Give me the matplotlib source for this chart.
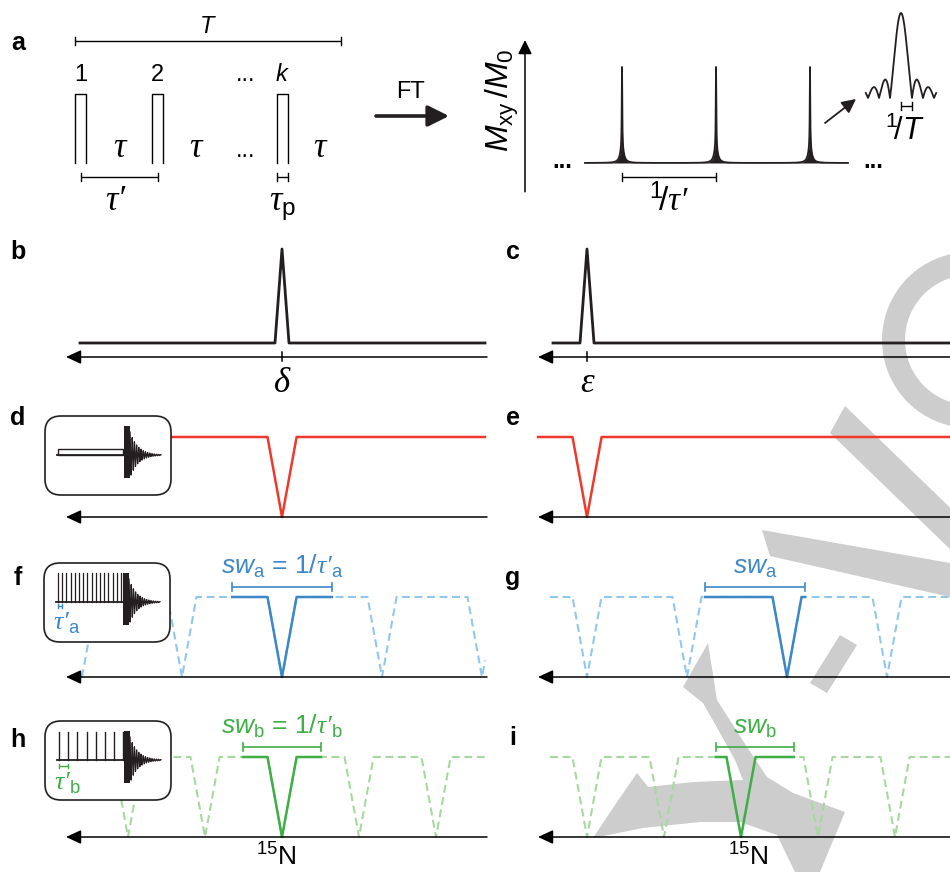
import numpy as np
import matplotlib
matplotlib.use("Agg")
import matplotlib.pyplot as plt
from matplotlib.patches import FancyBboxPatch, Polygon, Wedge, Rectangle

plt.rcParams['font.family'] = ['Liberation Sans', 'DejaVu Sans']
plt.rcParams['mathtext.fontset'] = 'custom'
plt.rcParams['mathtext.rm'] = 'Liberation Sans'
plt.rcParams['mathtext.it'] = 'Liberation Sans:italic'
plt.rcParams['mathtext.bf'] = 'Liberation Sans:bold'
plt.rcParams['mathtext.sf'] = 'Liberation Sans'
plt.rcParams['mathtext.cal'] = 'Liberation Serif:italic'

W, H = 950, 872
INK = '#231f20'
RED = '#ee3a2c'
BLUE, BLUE_LT = '#3d87c7', '#92c7ec'
GREEN, GREEN_LT = '#3fae46', '#a6d89f'
GREY = '#cdcdcd'
SERIF_IT = dict(family='Liberation Serif', style='italic')
TAU_P = r"$\mathcal{τ′}$"   # tau prime, serif italic

# ---------------- data ----------------
# a: pulse train, time in units of tau'
pulse_t = [0.0, 1.0, 2.62]
pulse_lbl = ['1', '2', '$k$']
tau_p = 0.143
tau_lbl_t = [0.5, 1.49, 3.11]
dots_t = 2.14
T_span = (-0.07, 3.38)
# a: FT of the train, frequency in units of 1/tau'
comb_f = [0.0, 1.0, 2.0]
comb_range = (-0.394, 2.404)
line_g1, line_g2, line_w2 = 0.003, 0.022, 0.16
# a: single line shape, frequency in units of 1/T
sinc_range = (-3.2, 3.2)

# b-i: frequency axis in units of sw_a, peak at 0 in each column
delta, eps = 0.0, 0.0
peak_hw, peak_base, peak_top = 0.07, 0.175, 1.35
dip_hw = 0.145
sw_a, sw_b = 1.0, 0.77
left_span = (-2.02, 2.03)      # spectrum extent, left column
right_span = (-0.37, 3.63)     # spectrum extent, right column
red_right_start = -0.49
win_f = (-0.5, 0.5)
win_g = (1.18, 2.18)
win_h = (-0.39, 0.39)
win_i = (1.29, 2.07)
fold_g = eps + 2 * sw_a
fold_i = eps + 2 * sw_b

# insets: acquisition schemes (local pixel units)
n_pulse_a, step_a = 16, 4.2
n_pulse_b, step_b = 8, 9.2
pulse0 = 15

fig = plt.figure(figsize=(W / 100, H / 100), dpi=100)


def fig_axes(x0, x1, y0, y1, xlim, ylim, z=1):
    ax = fig.add_axes([x0 / W, 1 - y1 / H, (x1 - x0) / W, (y1 - y0) / H], zorder=z)
    ax.set_xlim(xlim)
    ax.set_ylim(ylim)
    ax.axis('off')
    return ax


# watermark (background)
wm = fig_axes(0, W, 0, H, (0, W), (H, 0), z=0)
wm.add_patch(Wedge((970, 340), 88, 0, 360, width=23, color=GREY, lw=0))
wm_shapes = [
    [(830, 433), (845, 406), (1000, 556), (985, 583)],
    [(762, 530), (950, 563), (950, 597), (770, 556)],
    [(810, 683), (827, 693), (857, 645), (840, 635)],
    [(708, 643), (717, 700), (747, 747), (767, 777), (793, 793), (845, 812),
     (820, 872), (795, 872), (777, 835), (740, 822), (700, 822), (643, 828),
     (593, 838), (615, 805), (637, 773), (648, 787), (693, 782), (743, 780),
     (735, 760), (720, 733), (703, 703), (683, 687)],
]
for pts in wm_shapes:
    wm.add_patch(Polygon(pts, closed=True, color=GREY, lw=0))

# overlay for labels / arrows
ov = fig_axes(0, W, 0, H, (0, W), (H, 0), z=20)
for lbl, x, y in [('a', 18, 43), ('b', 18, 252), ('c', 513, 252), ('d', 18, 418),
                  ('e', 513, 418), ('f', 18, 578), ('g', 513, 578), ('h', 18, 740),
                  ('i', 513, 738)]:
    ov.text(x, y, lbl, ha='center', va='center', fontsize=18, fontweight='bold')
ov.text(411, 92, 'FT', ha='center', va='center', fontsize=17)
ov.annotate('', xy=(449, 116), xytext=(376, 116),
            arrowprops=dict(arrowstyle='-|>,head_length=0.8,head_width=0.4', lw=2.6,
                            color=INK, shrinkA=0, shrinkB=0, mutation_scale=16))
ov.annotate('', xy=(856, 99), xytext=(825, 123),
            arrowprops=dict(arrowstyle='-|>,head_length=0.6,head_width=0.3', lw=1.3,
                            color=INK, shrinkA=0, shrinkB=0, mutation_scale=14))

# ---------------- panel a: pulse train ----------------
PX_T = 77.0
pa = fig_axes(60, 360, 0, 230, ((60 - 80.5) / PX_T, (360 - 80.5) / PX_T), (230, 0))
hw = tau_p / 2
for t, lbl in zip(pulse_t, pulse_lbl):
    pa.plot([t - hw, t - hw, t + hw, t + hw], [163, 94, 94, 163], color='k', lw=1.0)
    pa.text(t, 81, lbl, ha='center', va='baseline', fontsize=17)
for t in tau_lbl_t:
    pa.text(t, 157, 'τ', ha='center', va='baseline', fontsize=25, **SERIF_IT)
pa.text(dots_t, 81, '...', ha='center', va='baseline', fontsize=17)
pa.text(dots_t, 157, '...', ha='center', va='baseline', fontsize=17)


def bracket(ax, x0, x1, y, h, color='k', lw=1.0):
    ax.plot([x0, x1], [y, y], color=color, lw=lw, solid_capstyle='butt')
    for x in (x0, x1):
        ax.plot([x, x], [y - h, y + h], color=color, lw=lw)


bracket(pa, T_span[0], T_span[1], 41, 4)
pa.text(np.mean(T_span), 33, '$T$', ha='center', va='baseline', fontsize=17)
bracket(pa, pulse_t[0], pulse_t[1], 177, 4)
pa.text(0.45, 210, 'τ\u2032', ha='center', va='baseline', fontsize=25, **SERIF_IT)
bracket(pa, pulse_t[2] - hw, pulse_t[2] + hw, 177, 4)
pa.text(pulse_t[2], 210, r"$\mathcal{\tau}_{\mathrm{p}}$", ha='center', va='baseline', fontsize=25)

# ---------------- panel a: spectrum ----------------
PX_F, PX_I = 94.0, 96.0
sa = fig_axes(480, 895, 25, 215, ((480 - 622) / PX_F, (895 - 622) / PX_F),
              ((163 - 215) / PX_I, (163 - 25) / PX_I))
fx = np.linspace(comb_range[0], comb_range[1], 30000)
fy = np.zeros_like(fx)
for f0 in comb_f:
    d2 = (fx - f0) ** 2
    fy += (1 - line_w2) * line_g1 ** 2 / (d2 + line_g1 ** 2) + line_w2 * line_g2 ** 2 / (d2 + line_g2 ** 2)
sa.fill_between(fx, 0, fy, color=INK, lw=0)
sa.plot(fx, fy, color=INK, lw=1.3)
sa.annotate('', xy=(-1.032, 1.28), xytext=(-1.032, -0.30),
            arrowprops=dict(arrowstyle='-|>,head_length=0.6,head_width=0.3', lw=1.1,
                            color='k', shrinkA=0, shrinkB=0, mutation_scale=14))
sa.text(-1.27, 0.65, r'$M_{\mathrm{xy}}\,/M_{\mathrm{0}}$', rotation=90, ha='center',
        va='center', fontsize=23)
sa.text(-0.63, -0.05, '...', ha='center', va='baseline', fontsize=17, fontweight='bold')
sa.text(2.67, -0.05, '...', ha='center', va='baseline', fontsize=17, fontweight='bold')
bracket(sa, comb_f[0], comb_f[1], -0.146, 0.045)
sa.text(0.5, -0.50, r"$^{1}\!/$" + TAU_P, ha='center', va='baseline', fontsize=24)

PX_S, PX_SY = 11.0, 85.0
si = fig_axes(855, 948, 5, 150, ((855 - 901) / PX_S, (948 - 901) / PX_S),
              ((98 - 150) / PX_SY, (98 - 5) / PX_SY))
su = np.linspace(sinc_range[0], sinc_range[1], 1200)
si.plot(su, np.abs(np.sinc(su)), color=INK, lw=1.3)
bracket(si, 0, 1, -0.094, 0.045)
si.text(0.35, -0.50, r'$^{1}\!/T$', ha='center', va='baseline', fontsize=22)

# ---------------- panels b-i ----------------
XU, YU = 100.0, 80.0
COLS = {'L': (60, 487, 282, -2.16), 'R': (532, 950, 587, -0.49)}


def row_axes(col, ybase):
    x0, x1, f0, _ = COLS[col]
    return fig_axes(x0, x1, ybase - 1.6 * YU, ybase + 0.45 * YU,
                    ((x0 - f0) / XU, (x1 - f0) / XU), (-0.45, 1.6), z=2)


def freq_axis(ax, col):
    tip = COLS[col][3]
    ax.annotate('', xy=(tip, 0), xytext=(ax.get_xlim()[1], 0),
                arrowprops=dict(arrowstyle='-|>,head_length=0.65,head_width=0.3', lw=1.1,
                                color='k', shrinkA=0, shrinkB=0, mutation_scale=14))


def dip_curve(span, centers):
    centers = np.asarray(centers)
    x = np.linspace(span[0], span[1], 3000)
    x = np.unique(np.concatenate([x, centers, centers - dip_hw, centers + dip_hw]))
    x = x[(x >= span[0]) & (x <= span[1])]
    d = np.min(np.abs(x[:, None] - centers[None, :]), axis=1)
    return x, np.minimum(1.0, d / dip_hw)


def peak_panel(col, ybase, pos, span, sym):
    ax = row_axes(col, ybase)
    freq_axis(ax, col)
    ax.plot([pos, pos], [-0.05, 0.06], color='k', lw=1.1)
    ax.plot([span[0], pos - peak_hw, pos, pos + peak_hw, span[1]],
            [peak_base, peak_base, peak_top, peak_base, peak_base], color=INK, lw=2.0)
    ax.text(pos, -0.33, sym, ha='center', va='center', fontsize=25, **SERIF_IT)


peak_panel('L', 357, delta, left_span, 'δ')
peak_panel('R', 357, eps, (-0.34, right_span[1]), 'ε')

for col, pos, span in [('L', delta, left_span), ('R', eps, (red_right_start, right_span[1]))]:
    ax = row_axes(col, 517)
    freq_axis(ax, col)
    x, y = dip_curve(span, [pos])
    ax.plot(x, y, color=RED, lw=1.8)


def alias_panel(col, ybase, pos, sw, win, span, c_dark, c_light, label):
    ax = row_axes(col, ybase)
    freq_axis(ax, col)
    centers = pos + sw * np.arange(-6, 7)
    x, y = dip_curve(span, centers)
    ax.plot(x, y, color=c_light, lw=1.5, dashes=(3.8, 2.2))
    m = (x >= win[0]) & (x <= win[1])
    ax.plot(x[m], y[m], color=c_dark, lw=1.8)
    bracket(ax, win[0], win[1], 1.125, 0.05, color=c_dark, lw=1.2)
    ax.text(np.mean(win), 1.29, label, ha='center', va='baseline', fontsize=19, color=c_dark)


alias_panel('L', 677, delta, sw_a, win_f, (-2.0, left_span[1]), BLUE, BLUE_LT,
            r"$sw_{\mathrm{a}}$ = 1/$\mathcal{τ′}_{\mathrm{a}}$")
alias_panel('R', 677, fold_g, sw_a, win_g, right_span, BLUE, BLUE_LT, r"$sw_{\mathrm{a}}$")
alias_panel('L', 837, delta, sw_b, win_h, (-2.0, left_span[1]), GREEN, GREEN_LT,
            r"$sw_{\mathrm{b}}$ = 1/$\mathcal{τ′}_{\mathrm{b}}$")
alias_panel('R', 837, fold_i, sw_b, win_i, right_span, GREEN, GREEN_LT, r"$sw_{\mathrm{b}}$")

ov.text(276, 866, r'$^{15}$N', ha='center', va='baseline', fontsize=19)
ov.text(748, 866, r'$^{15}$N', ha='center', va='baseline', fontsize=19)


# ---------------- insets ----------------
def inset(x0, y0):
    ax = fig_axes(x0, x0 + 128, y0, y0 + 81, (0, 128), (81, 0), z=10)
    ax.add_patch(FancyBboxPatch((1, 1), 126, 79, boxstyle='round,pad=0,rounding_size=16',
                                fc='white', ec=INK, lw=1.2, clip_on=False))
    ax.plot([13, 86], [40, 40], color=INK, lw=1.3)
    ax.add_patch(Rectangle((80, 11), 6, 52, color=INK, lw=0))
    t = np.linspace(0, 31, 800)
    ax.plot(86 + t, 40 - 23 * np.exp(-t / 8.0) * np.cos(2 * np.pi * t / 2.2),
            color=INK, lw=0.9)
    return ax


ind = inset(44, 415)
ind.add_patch(Rectangle((14, 34), 65, 6, fc='white', ec=INK, lw=1.0))

inf = inset(43, 562)
for i in range(n_pulse_a):
    xp = pulse0 + i * step_a
    inf.plot([xp, xp], [40, 11], color=INK, lw=0.9)
bracket(inf, pulse0, pulse0 + step_a, 44, 2, color=BLUE, lw=1.0)
inf.text(24, 68, r"$\mathcal{τ′}_{\mathrm{a}}$", ha='center', va='baseline', fontsize=19, color=BLUE)

inh = inset(44, 720)
for i in range(n_pulse_b):
    xp = pulse0 + i * step_b
    inh.plot([xp, xp], [40, 12], color=INK, lw=1.0)
bracket(inh, pulse0, pulse0 + step_b, 46, 2, color=GREEN, lw=1.0)
inh.text(23, 70, r"$\mathcal{τ′}_{\mathrm{b}}$", ha='center', va='baseline', fontsize=19, color=GREEN)

fig.savefig('out.png', dpi=100)
